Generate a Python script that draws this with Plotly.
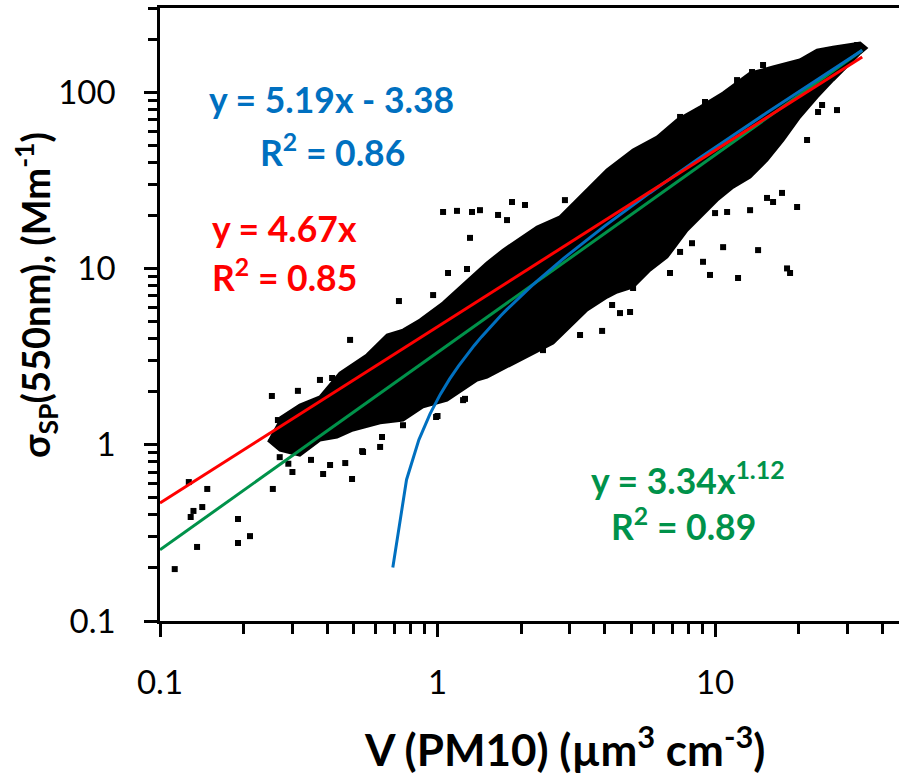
import numpy as np
import plotly.graph_objects as go

# ---- data ----
# dense core of the scatter cloud: upper edge (left -> right) and lower edge (right -> left)
cloud_top_x = [0.2706, 0.319, 0.377, 0.445, 0.557, 0.658, 0.751, 0.865, 1.047, 1.175,
               1.508, 1.722, 2.284, 2.763, 3.457, 4.082, 5.065, 6.18, 7.30, 8.83,
               10.69, 13.37, 16.18, 20.2, 23.3, 26.6, 33.3, 35.0]
cloud_top_y = [1.417, 1.680, 1.865, 2.55, 3.23, 4.19, 4.47, 5.10, 6.37, 7.54,
               10.73, 12.7, 17.17, 19.6, 27.8, 36.2, 46.9, 55.6, 69.5, 82.3,
               98.8, 128, 138.8, 152, 173, 180, 190, 178]
cloud_bot_x = [33.3, 30.6, 26.6, 23.3, 20.2, 17.58, 15.39, 13.37, 11.61, 10.17,
               8.83, 7.93, 6.71, 5.83, 5.065, 4.436, 4.082, 3.457, 2.608, 1.983,
               1.508, 1.388, 1.082, 0.8866, 0.751, 0.621, 0.496, 0.4344, 0.377, 0.319,
               0.2706, 0.245]
cloud_bot_y = [166.6, 146.2, 117, 93.8, 72.3, 53.5, 41.2, 33.0, 28.9, 24.4,
               19.6, 16.5, 11.6, 9.79, 7.84, 7.35, 6.88, 5.81, 3.78, 3.02,
               2.42, 2.33, 1.79, 1.64, 1.38, 1.33, 1.212, 1.106, 1.063, 0.874,
               0.933, 1.063]

# scattered individual points around the cloud
pts_x = [0.113, 0.136, 0.191, 0.191, 0.211, 0.132, 0.129, 0.142, 0.148, 0.127,
         0.253, 0.314, 0.266, 0.492, 0.465, 0.387, 0.621, 0.658, 0.535, 0.726,
         0.484, 0.377, 0.417, 0.255, 0.410, 0.631, 0.751, 1.0, 1.256, 1.52,
         0.539, 1.047, 1.175, 1.331, 1.422, 1.855, 2.066, 2.878, 1.309, 1.652,
         1.78, 1.091, 1.277, 0.964, 1.236, 0.988, 2.399, 3.262, 3.917, 4.545,
         4.94, 4.256, 5.065, 4.289, 4.859, 9.2, 7.48, 12.0, 13.59, 14.89,
         21.45, 24.3, 27.5, 23.5, 15.39, 16.18, 17.43, 19.75, 13.37, 11.05,
         10.0, 10.69, 14.29, 18.17, 18.63, 12.1, 9.59, 9.05, 8.26, 7.48,
         6.88, 32.5, 29.9, 0.29, 0.30, 0.27, 0.35]
pts_y = [0.197, 0.263, 0.379, 0.277, 0.303, 0.421, 0.389, 0.443, 0.561, 0.614,
         1.89, 2.02, 1.38, 0.639, 0.787, 0.682, 0.971, 1.38, 0.920, 6.53,
         3.93, 2.33, 2.39, 0.561, 0.767, 1.106, 1.29, 1.455, 1.82, 2.55,
         0.909, 20.9, 21.2, 20.9, 21.4, 23.8, 22.9, 24.4, 14.9, 20.1,
         18.8, 9.42, 9.92, 7.06, 1.79, 1.436, 3.44, 4.19, 4.42, 5.58,
         5.66, 6.2, 7.74, 8.6, 8.94, 87.9, 72.3, 117, 130, 142.5,
         53.5, 84.5, 79.1, 77.1, 25.1, 23.8, 26.8, 22.3, 21.4, 20.9,
         20.6, 13.2, 12.7, 10.0, 9.42, 8.82, 9.18, 10.9, 13.9, 12.4,
         9.42, 185, 178, 0.78, 0.70, 0.85, 0.82]

# fit coefficients shown on the chart
lin_slope, lin_icpt, lin_r2 = 5.19, -3.38, 0.86      # y = a x + b
prop_slope, prop_r2 = 4.67, 0.85                      # y = a x
pow_coef, pow_exp, pow_r2 = 3.34, 1.12, 0.89          # y = a x^b
fit_xmin, fit_xmax = 0.1, 33.9
lin_xmin = 0.69

x_ticks = [0.1, 1, 10]
x_ticklabels = ["0.1", "1", "10"]
y_ticks = [0.1, 1, 10, 100]
y_ticklabels = ["0.1", "1", "10", "100"]
x_minor = [0.2, 0.3, 0.4, 0.5, 0.6, 0.7, 0.8, 0.9, 2, 3, 4, 5, 6, 7, 8, 9, 20, 30, 40]
y_minor = [0.2, 0.3, 0.4, 0.5, 0.6, 0.7, 0.8, 0.9, 2, 3, 4, 5, 6, 7, 8, 9,
           20, 30, 40, 50, 60, 70, 80, 90, 200, 300]

BLUE = "#0070C0"
RED = "#FF0000"
GREEN = "#00924A"
FONT = "Lato"

fig = go.Figure()

# cloud core
poly_x = cloud_top_x + cloud_bot_x
poly_y = cloud_top_y + cloud_bot_y
fig.add_trace(go.Scatter(x=poly_x, y=poly_y, fill="toself", fillcolor="black",
                         mode="lines", line=dict(color="black", width=3),
                         hoverinfo="skip", showlegend=False))
fig.add_trace(go.Scatter(x=pts_x, y=pts_y, mode="markers",
                         marker=dict(symbol="square", size=6, color="black",
                                     line=dict(width=0)),
                         showlegend=False))

# fit lines
xs_pow = np.logspace(np.log10(fit_xmin), np.log10(fit_xmax), 120)
fig.add_trace(go.Scatter(x=xs_pow, y=pow_coef * xs_pow ** pow_exp, mode="lines",
                         line=dict(color=GREEN, width=3), showlegend=False))
xs_lin = np.linspace(lin_xmin, fit_xmax, 400)
fig.add_trace(go.Scatter(x=xs_lin, y=lin_slope * xs_lin + lin_icpt, mode="lines",
                         line=dict(color=BLUE, width=3), showlegend=False))
xs_prop = np.logspace(np.log10(fit_xmin), np.log10(fit_xmax), 60)
fig.add_trace(go.Scatter(x=xs_prop, y=prop_slope * xs_prop, mode="lines",
                         line=dict(color=RED, width=3), showlegend=False))

tickfont = dict(family=FONT, size=33, color="black")
fig.update_xaxes(type="log", range=[-1, np.log10(46)], showgrid=False, zeroline=False,
                 showline=True, linecolor="black", linewidth=2.5, mirror=True,
                 ticks="outside", ticklen=13, tickwidth=2.5, tickcolor="black",
                 tickvals=x_ticks, ticktext=x_ticklabels, tickfont=tickfont,
                 ticklabelstandoff=18,
                 minor=dict(tickvals=x_minor, ticks="outside", ticklen=10,
                            tickwidth=2.5, tickcolor="black", showgrid=False))
fig.update_yaxes(type="log", range=[-1, np.log10(300)], showgrid=False, zeroline=False,
                 showline=True, linecolor="black", linewidth=2.5,
                 ticks="outside", ticklen=13, tickwidth=2.5, tickcolor="black",
                 tickvals=y_ticks, ticktext=y_ticklabels, tickfont=tickfont,
                 ticklabelstandoff=22,
                 minor=dict(tickvals=y_minor, ticks="outside", ticklen=9,
                            tickwidth=2.5, tickcolor="black", showgrid=False))

def ann(text, x, y, color, size=35.5, **kw):
    fig.add_annotation(text=text, x=x, y=y, xref="paper", yref="paper",
                       showarrow=False, xanchor="center", yanchor="middle",
                       font=dict(family=FONT, size=size, color=color), **kw)

ann(f"<b>y = {lin_slope}x - {abs(lin_icpt)}</b>", 0.2314, 0.850, BLUE)
ann(f"<b>R<sup>2</sup> = {lin_r2}</b>", 0.234, 0.768, BLUE)
ann(f"<b>y = {prop_slope}x</b>", 0.169, 0.641, RED)
ann(f"<b>R<sup>2</sup> = {prop_r2}</b>", 0.169, 0.564, RED)
ann(f"<b>y = {pow_coef}x<sup>{pow_exp}</sup></b>", 0.7145, 0.233, GREEN)
ann(f"<b>R<sup>2</sup> = {pow_r2}</b>", 0.709, 0.158, GREEN)

ann("<b>V (PM10) (µm<sup>3</sup> cm<sup>-3</sup>)</b>", 0.5467, -0.205, "black", size=44)
ann("<b>σ<sub>SP</sub>(550nm), (Mm<sup>-1</sup>)</b>", -0.1678, 0.532, "black", size=38,
    textangle=-90)

fig.update_layout(width=899, height=779, margin=dict(l=160, r=0, t=8, b=158),
                  paper_bgcolor="white", plot_bgcolor="white", showlegend=False)

fig.write_html("out.html")
